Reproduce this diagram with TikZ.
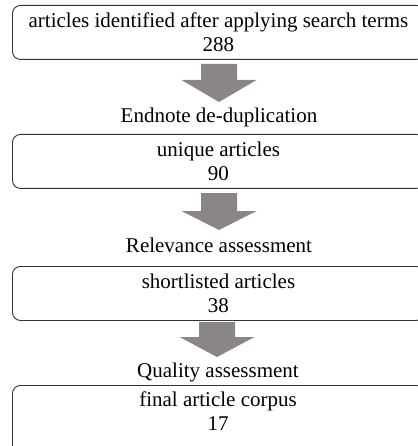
\documentclass[tikz,border=0pt]{standalone}
\usepackage{fontspec}
\setmainfont{Liberation Serif}
\definecolor{arrowgray}{RGB}{139,134,134}
\definecolor{boxline}{RGB}{50,50,50}
\begin{document}
\begin{tikzpicture}[x=1pt,y=-1pt,
  stage/.style={draw=boxline, line width=0.9pt, rounded corners=8pt,
    minimum width=412pt, minimum height=54pt, align=center,
    font=\fontsize{21}{24}\selectfont, inner sep=0pt, anchor=north west},
  stagetext/.style={align=center, font=\fontsize{21}{24}\selectfont, inner sep=0pt},
  steplabel/.style={font=\fontsize{21}{24}\selectfont, inner sep=0pt},
  blockarrow/.style={fill=arrowgray}]
\useasboundingbox (0,0) rectangle (417,446);
\node[stage] (b1) at (12,5) {articles identified after applying search terms\\288};
\node[stage] (b2) at (12,134) {unique articles\\90};
\node[stage] (b3) at (12,266) {shortlisted articles\\38};
\node[stage, minimum height=70pt] (b4) at (12,385) {};
\node[stagetext] (t4) at (218,411.5) {final article corpus\\17};
\node[steplabel] (l1) at (219,117.5) {Endnote de-duplication};
\node[steplabel] (l2) at (219,245.5) {Relevance assessment};
\node[steplabel] (l3) at (218,372.5) {Quality assessment};
\coordinate (a1) at (219,64);
\coordinate (a2) at (219,193);
\coordinate (a3) at (217,322);
\fill[blockarrow] (a1) ++(-18,0) -- ++(36,0) -- ++(0,16) -- ++(19.5,0) -- ++(-37.5,22) -- ++(-37.5,-22) -- ++(19.5,0) -- cycle;
\fill[blockarrow] (a2) ++(-18,0) -- ++(36,0) -- ++(0,18) -- ++(19.5,0) -- ++(-37.5,19) -- ++(-37.5,-19) -- ++(19.5,0) -- cycle;
\fill[blockarrow] (a3) ++(-18,0) -- ++(36,0) -- ++(0,15) -- ++(19.5,0) -- ++(-37.5,20) -- ++(-37.5,-20) -- ++(19.5,0) -- cycle;
\end{tikzpicture}
\end{document}
